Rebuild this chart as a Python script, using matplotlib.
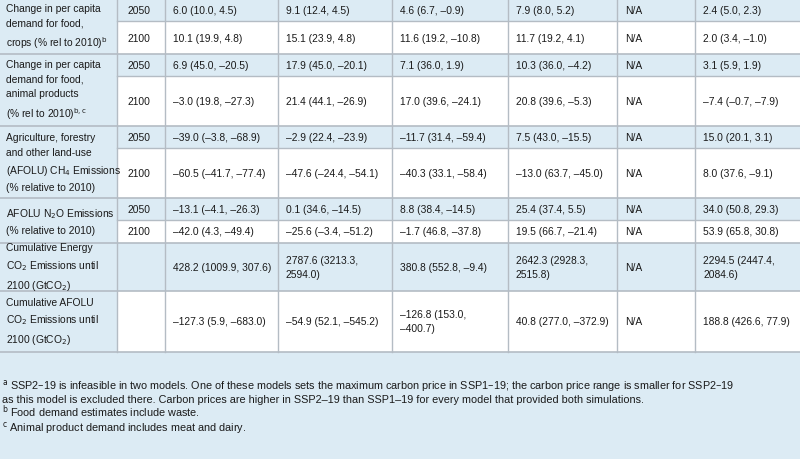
import matplotlib.pyplot as plt
from matplotlib.patches import Rectangle

plt.rcParams['font.family'] = ['Liberation Sans', 'DejaVu Sans']

BLUE = '#dcebf4'
LINE = '#b4bcc4'
TXT = '#1a1a1a'

# row group labels
groups = [
    "Change in per capita\ndemand for food,\ncrops (% rel to 2010)$^{\\rm b}$",
    "Change in per capita\ndemand for food,\nanimal products\n(% rel to 2010)$^{\\rm b,c}$",
    "Agriculture, forestry\nand other land-use\n(AFOLU) CH$_4$ Emissions\n(% relative to 2010)",
    "AFOLU N$_2$O Emissions\n(% relative to 2010)",
    "Cumulative Energy\nCO$_2$ Emissions until\n2100 (GtCO$_2$)",
    "Cumulative AFOLU\nCO$_2$ Emissions until\n2100 (GtCO$_2$)",
]
years = [["2050", "2100"], ["2050", "2100"], ["2050", "2100"], ["2050", "2100"], [""], [""]]

values = [
    [["6.0 (10.0, 4.5)", "9.1 (12.4, 4.5)", "4.6 (6.7, \u20130.9)", "7.9 (8.0, 5.2)", "N/A", "2.4 (5.0, 2.3)"],
     ["10.1 (19.9, 4.8)", "15.1 (23.9, 4.8)", "11.6 (19.2, \u201310.8)", "11.7 (19.2, 4.1)", "N/A", "2.0 (3.4, \u20131.0)"]],
    [["6.9 (45.0, \u201320.5)", "17.9 (45.0, \u201320.1)", "7.1 (36.0, 1.9)", "10.3 (36.0, \u20134.2)", "N/A", "3.1 (5.9, 1.9)"],
     ["\u20133.0 (19.8, \u201327.3)", "21.4 (44.1, \u201326.9)", "17.0 (39.6, \u201324.1)", "20.8 (39.6, \u20135.3)", "N/A", "\u20137.4 (\u20130.7, \u20137.9)"]],
    [["\u201339.0 (\u20133.8, \u201368.9)", "\u20132.9 (22.4, \u201323.9)", "\u201311.7 (31.4, \u201359.4)", "7.5 (43.0, \u201315.5)", "N/A", "15.0 (20.1, 3.1)"],
     ["\u201360.5 (\u201341.7, \u201377.4)", "\u201347.6 (\u201324.4, \u201354.1)", "\u201340.3 (33.1, \u201358.4)", "\u201313.0 (63.7, \u201345.0)", "N/A", "8.0 (37.6, \u20139.1)"]],
    [["\u201313.1 (\u20134.1, \u201326.3)", "0.1 (34.6, \u201314.5)", "8.8 (38.4, \u201314.5)", "25.4 (37.4, 5.5)", "N/A", "34.0 (50.8, 29.3)"],
     ["\u201342.0 (4.3, \u201349.4)", "\u201325.6 (\u20133.4, \u201351.2)", "\u20131.7 (46.8, \u201337.8)", "19.5 (66.7, \u201321.4)", "N/A", "53.9 (65.8, 30.8)"]],
    [["428.2 (1009.9, 307.6)", "2787.6 (3213.3,\n2594.0)", "380.8 (552.8, \u20139.4)", "2642.3 (2928.3,\n2515.8)", "N/A", "2294.5 (2447.4,\n2084.6)"]],
    [["\u2013127.3 (5.9, \u2013683.0)", "\u201354.9 (52.1, \u2013545.2)", "\u2013126.8 (153.0,\n\u2013400.7)", "40.8 (277.0, \u2013372.9)", "N/A", "188.8 (426.6, 77.9)"]],
]

footnotes = [
    "$^{\\rm a}$ SSP2\u201319 is infeasible in two models. One of these models sets the maximum carbon price in SSP1\u201319; the carbon price range is smaller for SSP2\u201319",
    "as this model is excluded there. Carbon prices are higher in SSP2\u201319 than SSP1\u201319 for every model that provided both simulations.",
    "$^{\\rm b}$ Food demand estimates include waste.",
    "$^{\\rm c}$ Animal product demand includes meat and dairy.",
]

# layout in pixels
col_x = [0, 117, 165, 278, 392, 508, 617, 695, 800]
row_y = [0, 22, 55, 77, 127, 149, 199, 221, 244, 292, 353]
FS = 7.4

fig = plt.figure(figsize=(8, 4.6), dpi=100)
ax = fig.add_axes([0, 0, 1, 1])
ax.set_xlim(0, 800)
ax.set_ylim(460, 0)
ax.axis('off')

ax.add_patch(Rectangle((0, 353), 800, 107, color=BLUE, lw=0))

r = 0
for gi, label in enumerate(groups):
    top = row_y[r]
    bottom = row_y[r + len(years[gi])]
    ax.add_patch(Rectangle((0, top), col_x[1], bottom - top, color=BLUE, lw=0))
    ax.text(6, top + (bottom - top) / 2, label, fontsize=FS, color=TXT, va='center', ha='left', linespacing=1.6)
    for k, yr in enumerate(years[gi]):
        y0, y1 = row_y[r], row_y[r + 1]
        shaded = (yr == "2050") or (gi == 4)
        if shaded:
            ax.add_patch(Rectangle((col_x[1], y0), 800 - col_x[1], y1 - y0, color=BLUE, lw=0))
        ym = (y0 + y1) / 2
        if yr:
            ax.text(col_x[1] + 10, ym, yr, fontsize=FS, color=TXT, va='center')
        for c, v in enumerate(values[gi][k]):
            ax.text(col_x[c + 2] + 8, ym, v, fontsize=FS, color=TXT, va='center', linespacing=1.5)
        if k > 0:
            ax.plot([col_x[1], 800], [y0, y0], color=LINE, lw=1)
        r += 1
    ax.plot([0, 800], [bottom, bottom], color=LINE, lw=1.2)

for x in col_x[1:-1]:
    ax.plot([x, x], [0, 353], color=LINE, lw=1)

for i, line in enumerate(footnotes):
    ax.text(2, 389 + 14 * i, line, fontsize=7.8, color=TXT, va='baseline')

fig.savefig('out.png', dpi=100)
